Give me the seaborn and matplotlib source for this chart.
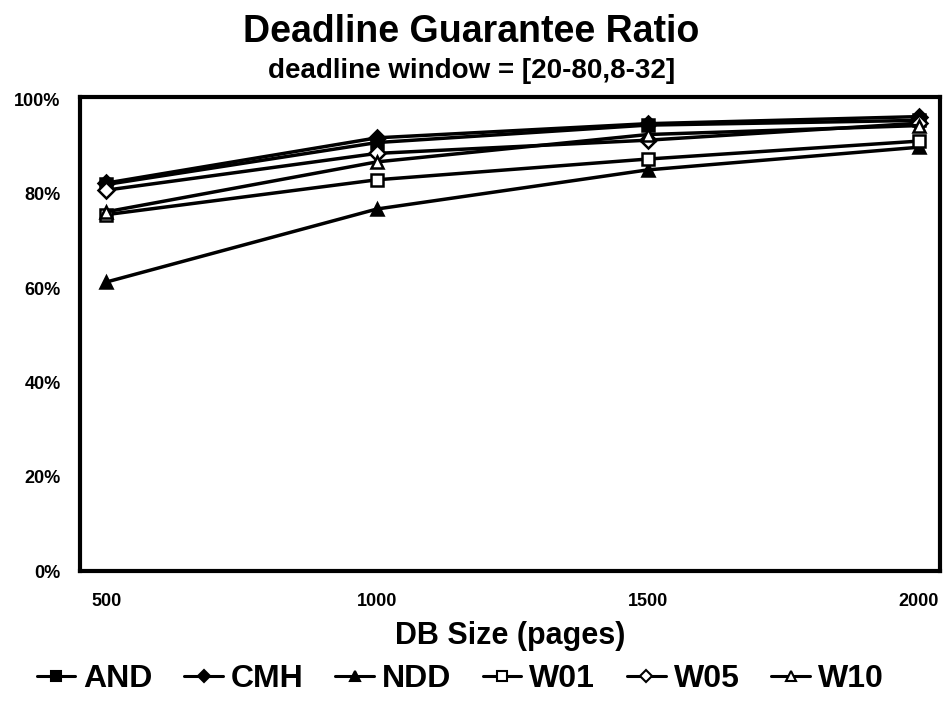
import matplotlib
matplotlib.use("Agg")
import matplotlib.pyplot as plt
import seaborn as sns
import pandas as pd
from matplotlib.ticker import FixedLocator, FuncFormatter
from matplotlib.lines import Line2D

sns.set_theme(style="white")
plt.rcParams['font.family'] = ['Liberation Sans', 'DejaVu Sans']
plt.rcParams['text.color'] = 'black'
plt.rcParams['axes.labelcolor'] = 'black'
plt.rcParams['xtick.color'] = 'black'
plt.rcParams['ytick.color'] = 'black'

db_sizes = [500, 1000, 1500, 2000]
series_names = ["AND", "CMH", "NDD", "W01", "W05", "W10"]
AND = [82.0, 90.9, 94.6, 95.6]
CMH = [82.3, 91.9, 94.9, 96.4]
NDD = [61.3, 76.8, 85.1, 89.9]
W01 = [75.6, 83.0, 87.4, 91.2]
W05 = [80.8, 88.6, 91.4, 95.0]
W10 = [76.2, 86.8, 92.6, 94.5]
values = [AND, CMH, NDD, W01, W05, W10]
y_ticks = [0, 20, 40, 60, 80, 100]
x_ticks = [500, 1000, 1500, 2000]
title = "Deadline Guarantee Ratio"
subtitle = "deadline window = [20-80,8-32]"
x_label = "DB Size (pages)"

rows = []
for name, vals in zip(series_names, values):
    for x, v in zip(db_sizes, vals):
        rows.append({"DB Size": x, "ratio": v, "series": name})
df = pd.DataFrame(rows)

markers = {"AND": "s", "CMH": "D", "NDD": "^", "W01": "s", "W05": "D", "W10": "^"}
filled = {"AND": True, "CMH": True, "NDD": True, "W01": False, "W05": False, "W10": False}
msize = {"s": 9, "D": 8, "^": 9}

fig = plt.figure(figsize=(9.43, 7.05), dpi=100)
ax = fig.add_axes([0.085, 0.19, 0.912, 0.672])

for name in series_names:
    sub = df[df["series"] == name]
    m = markers[name]
    sns.lineplot(data=sub, x="DB Size", y="ratio", ax=ax, color="black",
                 linewidth=2.5, marker=m, markersize=msize[m],
                 markerfacecolor="black" if filled[name] else "white",
                 markeredgecolor="black", markeredgewidth=1.8,
                 label=name, legend=False, zorder=3)

ax.set_xlim(452, 2040)
ax.set_ylim(0, 100.5)
ax.yaxis.set_major_locator(FixedLocator(y_ticks))
ax.yaxis.set_major_formatter(FuncFormatter(lambda v, p: f"{int(v)}%"))
ax.xaxis.set_major_locator(FixedLocator(x_ticks))
ax.tick_params(axis="both", direction="in", length=7, width=1.2, colors="black",
               labelsize=13)
ax.tick_params(axis="x", pad=16)
ax.tick_params(axis="y", pad=14)
for lab in ax.get_xticklabels() + ax.get_yticklabels():
    lab.set_fontweight("bold")
for s in ax.spines.values():
    s.set_visible(True)
    s.set_color("black")
    s.set_linewidth(3)
ax.set_xlabel(x_label, fontsize=22, fontweight="bold", labelpad=8)
ax.set_ylabel("")
ax.grid(False)

fig.text(0.5, 0.955, title, ha="center", va="center", fontsize=27, fontweight="bold")
fig.text(0.5, 0.9, subtitle, ha="center", va="center", fontsize=20, fontweight="bold")

handles = []
for name in series_names:
    m = markers[name]
    handles.append(Line2D([0], [0], color="black", linewidth=2.2, marker=m,
                          markersize=msize[m] - 2,
                          markerfacecolor="black" if filled[name] else "white",
                          markeredgecolor="black", markeredgewidth=1.5))
leg = fig.legend(handles, series_names, loc="center", bbox_to_anchor=(0.488, 0.037),
                 ncol=6, frameon=False, handlelength=1.2, handletextpad=0.25,
                 columnspacing=1.0, prop={"size": 23, "weight": "bold"})

fig.savefig("out.png", dpi=100)
